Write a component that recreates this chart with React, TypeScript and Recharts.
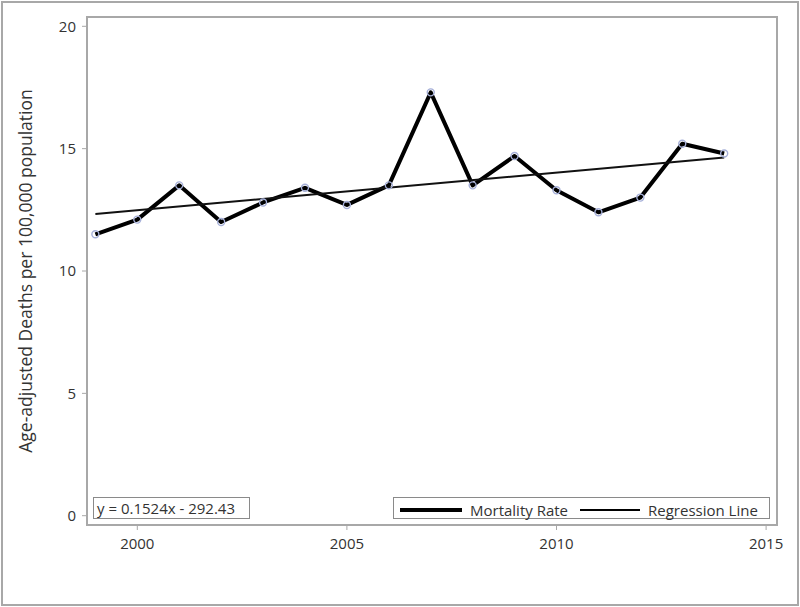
import { Line, LineChart, XAxis, YAxis } from "recharts";

const years = [1999, 2000, 2001, 2002, 2003, 2004, 2005, 2006, 2007, 2008, 2009, 2010, 2011, 2012, 2013, 2014];
const mortalityRate = [11.5, 12.1, 13.5, 12.0, 12.8, 13.4, 12.7, 13.5, 17.3, 13.5, 14.7, 13.3, 12.4, 13.0, 15.2, 14.8];
const regressionYears = [1999, 2014];
const regressionValues = [12.33, 14.64];
const xTicks = [2000, 2005, 2010, 2015];
const yTicks = [0, 5, 10, 15, 20];
const equationLabel = "y = 0.1524x - 292.43";

const FONT = "'Open Sans', 'Noto Sans', sans-serif";
const TEXT = "#333";
const FRAME = "#a8a8a8";

const chartData = years.map((year, i) => {
  const r = regressionYears.indexOf(year);
  return {
    year,
    rate: mortalityRate[i],
    reg: r >= 0 ? regressionValues[r] : null,
  };
});

function LegendSwatch(props: { width: number; thick: number }) {
  return (
    <span
      style={{
        display: "inline-block",
        width: props.width,
        height: props.thick,
        background: "#000",
        verticalAlign: "middle",
      }}
    />
  );
}

export default function App() {
  return (
    <div style={{ position: "absolute", left: 0, top: 0, width: 800, height: 607, background: "#fff", fontFamily: FONT }}>
      <div
        style={{
          position: "absolute",
          left: 1,
          top: 1,
          width: 794,
          height: 601,
          border: `2px solid ${FRAME}`,
          boxSizing: "content-box",
        }}
      />
      {/* plot frame */}
      <div
        style={{
          position: "absolute",
          left: 86,
          top: 16,
          width: 692,
          height: 510,
          border: `2px solid ${FRAME}`,
          boxSizing: "border-box",
        }}
      />
      <LineChart
        width={800}
        height={607}
        data={chartData}
        margin={{ top: 17, right: 23, bottom: 0, left: 0 }}
        style={{ position: "absolute", left: 0, top: 0 }}
      >
        <XAxis
          dataKey="year"
          type="number"
          domain={[1998.8, 2015.26]}
          ticks={xTicks}
          allowDataOverflow
          height={82}
          axisLine={false}
          tickLine={{ stroke: FRAME }}
          tickSize={5}
          tickMargin={8}
          tick={{ fontSize: 15, fill: TEXT, fontFamily: FONT }}
        />
        <YAxis
          type="number"
          domain={[-0.38, 20.38]}
          ticks={yTicks}
          allowDataOverflow
          width={87}
          axisLine={false}
          tickLine={{ stroke: FRAME }}
          tickSize={5}
          tickMargin={6}
          tick={{ fontSize: 15, fill: TEXT, fontFamily: FONT }}
          label={{
            value: "Age-adjusted Deaths per 100,000 population",
            angle: -90,
            position: "insideLeft",
            offset: 26,
            style: { textAnchor: "middle", fontSize: 17.5, fill: TEXT, fontFamily: FONT },
          }}
        />
        <Line
          dataKey="rate"
          stroke="none"
          dot={{ r: 3.5, stroke: "#a5afd8", strokeWidth: 1.4, fill: "none" }}
          activeDot={false}
          isAnimationActive={false}
        />
        <Line
          dataKey="rate"
          type="linear"
          stroke="#000"
          strokeWidth={4}
          strokeLinejoin="round"
          dot={false}
          activeDot={false}
          isAnimationActive={false}
        />
        <Line
          dataKey="reg"
          type="linear"
          stroke="#111"
          strokeWidth={2}
          connectNulls
          dot={false}
          activeDot={false}
          isAnimationActive={false}
        />
      </LineChart>
      <div
        style={{
          position: "absolute",
          left: 93,
          top: 497,
          width: 157,
          height: 22,
          border: "1px solid #8a8a8a",
          boxSizing: "border-box",
          fontSize: 15,
          color: TEXT,
          lineHeight: "20px",
          paddingLeft: 3,
          whiteSpace: "nowrap",
        }}
      >
        {equationLabel}
      </div>
      <div
        style={{
          position: "absolute",
          left: 393,
          top: 497,
          width: 377,
          height: 22,
          border: "1px solid #8a8a8a",
          boxSizing: "border-box",
          fontSize: 15,
          color: TEXT,
          lineHeight: "20px",
          whiteSpace: "nowrap",
          paddingLeft: 6,
        }}
      >
        <LegendSwatch width={62} thick={4} />
        <span style={{ marginLeft: 8, verticalAlign: "middle" }}>Mortality Rate</span>
        <span style={{ marginLeft: 12 }} />
        <LegendSwatch width={60} thick={2} />
        <span style={{ marginLeft: 8, verticalAlign: "middle" }}>Regression Line</span>
      </div>
    </div>
  );
}
